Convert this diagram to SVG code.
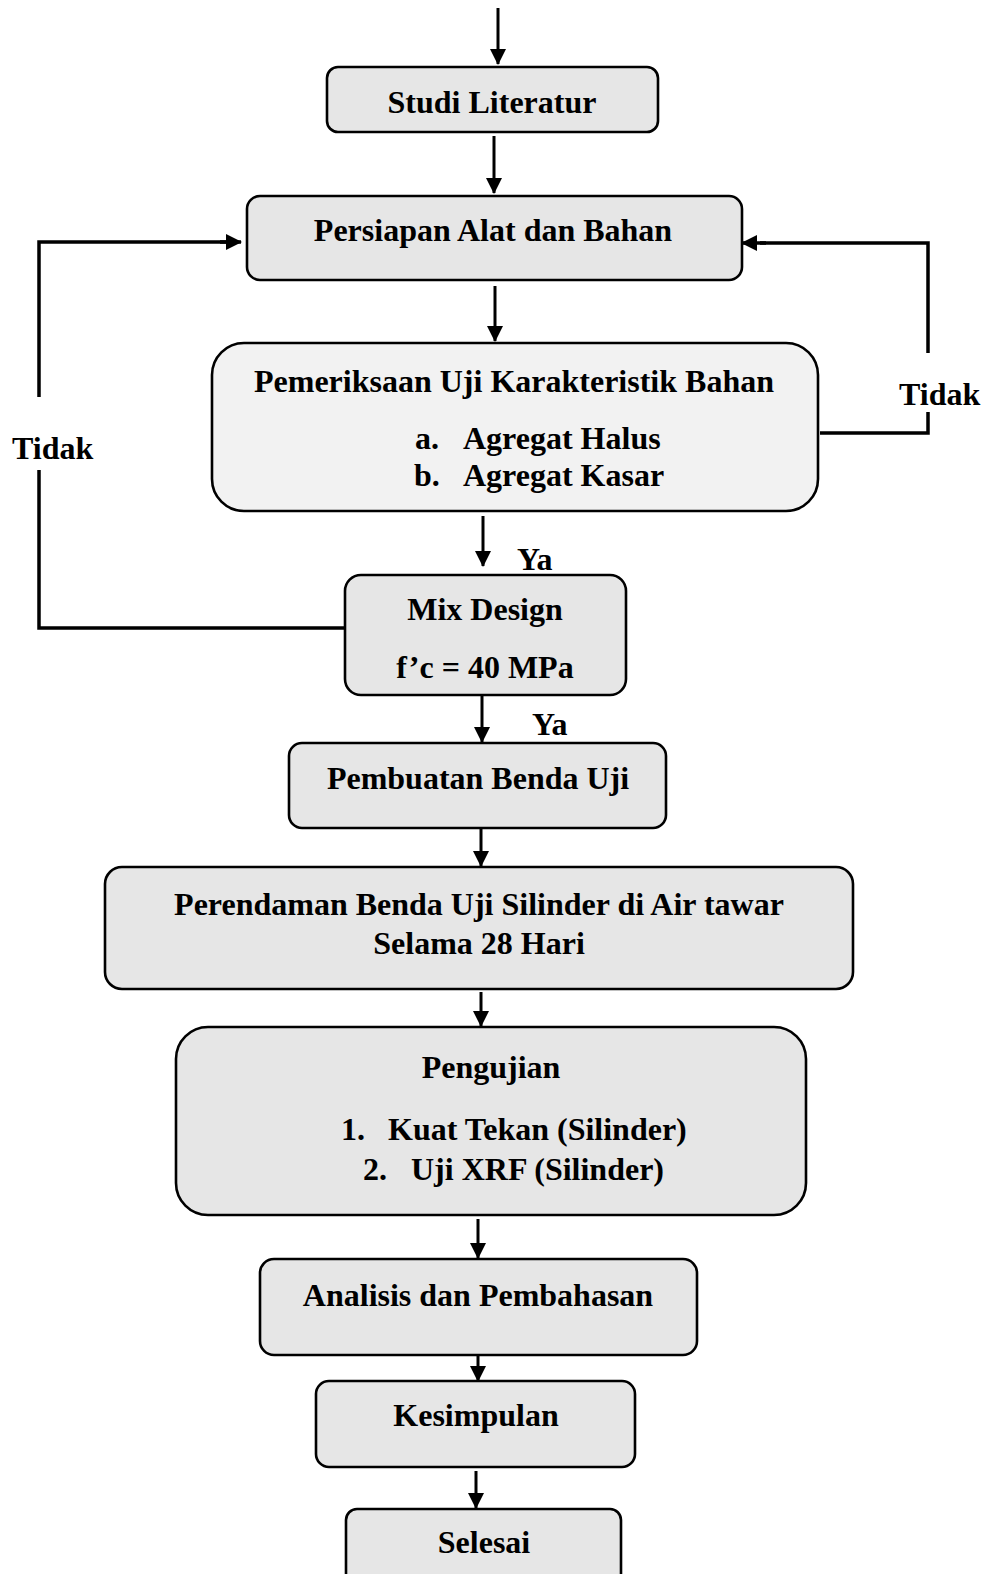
<svg xmlns="http://www.w3.org/2000/svg" width="984" height="1574" viewBox="0 0 984 1574">
<defs>
<style>
.box{fill:#e6e6e6;stroke:#000;stroke-width:2.6}
.box2{fill:#f2f2f2;stroke:#000;stroke-width:2.6}
.t{font-family:"Liberation Serif","Times New Roman",serif;font-weight:bold;font-size:32px;fill:#000}
.c{text-anchor:middle}
.arr{stroke:#000;stroke-width:3;fill:none;marker-end:url(#ah)}
.loop{stroke:#000;stroke-width:3.5;fill:none}
</style>
<marker id="ah" markerUnits="userSpaceOnUse" markerWidth="16" markerHeight="16" refX="15" refY="8" orient="auto">
<path d="M0,0 L16,8 L0,16 z" fill="#000"/>
</marker>
</defs>
<rect width="984" height="1574" fill="#fff"/>
<g id="connectors">
<line class="arr" x1="498" y1="8" x2="498" y2="64"/>
<line class="arr" x1="494" y1="136" x2="494" y2="193"/>
<line class="arr" x1="495" y1="286" x2="495" y2="341"/>
<line class="arr" x1="483" y1="516" x2="483" y2="566"/>
<line class="arr" x1="482" y1="696" x2="482" y2="742"/>
<line class="arr" x1="481" y1="829" x2="481" y2="866"/>
<line class="arr" x1="481" y1="992" x2="481" y2="1026"/>
<line class="arr" x1="478" y1="1219" x2="478" y2="1258"/>
<line class="arr" x1="478" y1="1356" x2="478" y2="1381"/>
<line class="arr" x1="476" y1="1471" x2="476" y2="1508"/>
<path class="loop" d="M345,628 H39 V470"/>
<path class="loop" d="M39,397 V242 H226"/>
<line class="arr" x1="220" y1="242" x2="241" y2="242" style="stroke-width:3.5"/>
<path class="loop" d="M820,433 H928 V412"/>
<path class="loop" d="M928,353 V243 H760"/>
<line class="arr" x1="766" y1="243" x2="742" y2="243" style="stroke-width:3.5"/>
<text class="t" x="12" y="459">Tidak</text>
<text class="t" x="899" y="405">Tidak</text>
<text class="t" x="517" y="570">Ya</text>
<text class="t" x="532" y="735">Ya</text>
</g>
<g id="studi">
<rect class="box" x="327" y="67" width="331" height="65" rx="11"/>
<text class="t c" x="492" y="113">Studi Literatur</text>
</g>
<g id="persiapan">
<rect class="box" x="247" y="196" width="495" height="84" rx="13"/>
<text class="t c" x="493" y="241">Persiapan Alat dan Bahan</text>
</g>
<g id="pemeriksaan">
<rect class="box2" x="212" y="343" width="606" height="168" rx="32"/>
<text class="t c" x="514" y="392">Pemeriksaan Uji Karakteristik Bahan</text>
<text class="t" x="415" y="449">a.</text>
<text class="t" x="463" y="449">Agregat Halus</text>
<text class="t" x="414" y="486">b.</text>
<text class="t" x="463" y="486">Agregat Kasar</text>
</g>
<g id="mix">
<rect class="box" x="345" y="575" width="281" height="120" rx="16"/>
<text class="t c" x="485" y="620">Mix Design</text>
<text class="t c" x="485" y="678">f’c = 40 MPa</text>
</g>
<g id="pembuatan">
<rect class="box" x="289" y="743" width="377" height="85" rx="13"/>
<text class="t c" x="478" y="789">Pembuatan Benda Uji</text>
</g>
<g id="perendaman">
<rect class="box" x="105" y="867" width="748" height="122" rx="17"/>
<text class="t c" x="479" y="915">Perendaman Benda Uji Silinder di Air tawar</text>
<text class="t c" x="479" y="954">Selama 28 Hari</text>
</g>
<g id="pengujian">
<rect class="box" x="176" y="1027" width="630" height="188" rx="32"/>
<text class="t c" x="491" y="1078">Pengujian</text>
<text class="t" x="341" y="1140">1.</text>
<text class="t" x="388" y="1140">Kuat Tekan (Silinder)</text>
<text class="t" x="363" y="1180">2.</text>
<text class="t" x="411" y="1180">Uji XRF (Silinder)</text>
</g>
<g id="analisis">
<rect class="box" x="260" y="1259" width="437" height="96" rx="14"/>
<text class="t c" x="478" y="1306">Analisis dan Pembahasan</text>
</g>
<g id="kesimpulan">
<rect class="box" x="316" y="1381" width="319" height="86" rx="13"/>
<text class="t c" x="476" y="1426">Kesimpulan</text>
</g>
<g id="selesai">
<rect class="box" x="346" y="1509" width="275" height="80" rx="11"/>
<text class="t c" x="484" y="1553">Selesai</text>
</g>
</svg>
